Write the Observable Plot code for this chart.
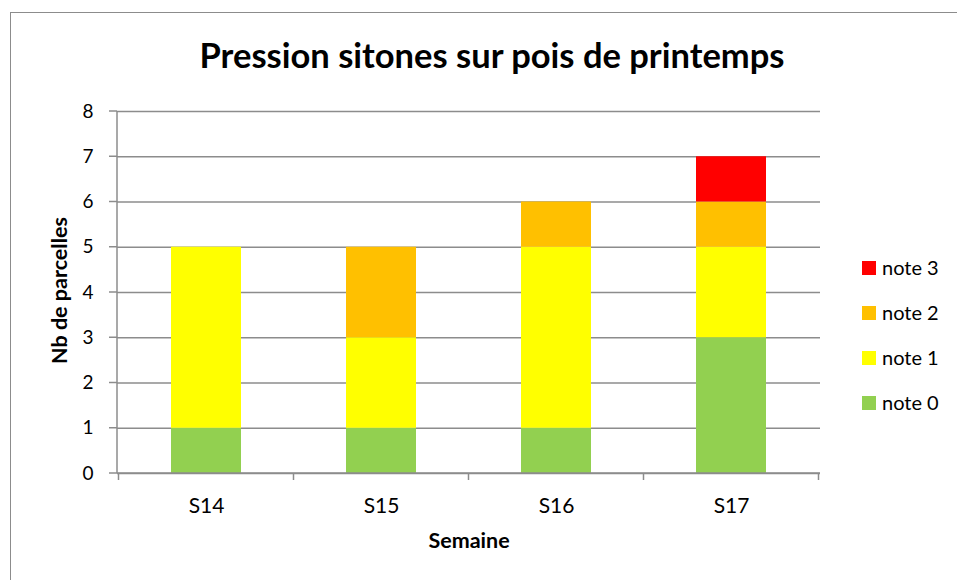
<!DOCTYPE html>
<html>
<head>
<meta charset="utf-8">
<script src="https://cdn.jsdelivr.net/npm/d3@7"></script>
<script src="https://cdn.jsdelivr.net/npm/@observablehq/plot@0.6"></script>
<style>
  body { margin: 0; background: #fff; font-family: Lato, "Open Sans", sans-serif; }
  #wrap { position: relative; width: 957px; height: 580px; overflow: hidden; }
  #frame { position: absolute; left: 10px; top: 12px; width: 960px; height: 580px; border: 1.5px solid #8c8c8c; box-sizing: border-box; }
  #chart { position: absolute; left: 0; top: 0; }
</style>
</head>
<body>
<div id="wrap">
  <div id="frame"></div>
  <div id="chart"></div>
</div>
<script>
const title = "Pression sitones sur pois de printemps";
const xTitle = "Semaine";
const yTitle = "Nb de parcelles";
const weeks = ["S14", "S15", "S16", "S17"];
const notes = ["note 0", "note 1", "note 2", "note 3"];
const note0 = [1, 1, 1, 3];
const note1 = [4, 2, 4, 2];
const note2 = [0, 2, 1, 1];
const note3 = [0, 0, 0, 1];
const colors = ["#92D050", "#FFFF00", "#FFC000", "#FF0000"];
const yTicks = [0, 1, 2, 3, 4, 5, 6, 7, 8];

const series = [note0, note1, note2, note3];
const data = [];
weeks.forEach((w, i) => {
  notes.forEach((n, j) => {
    data.push({week: w, note: n, value: series[j][i]});
  });
});

const font = "Lato, 'Open Sans', sans-serif";
const chart = Plot.plot({
  width: 957,
  height: 580,
  marginLeft: 117,
  marginRight: 137,
  marginTop: 111,
  marginBottom: 107,
  style: {fontFamily: font, fontSize: "16px", color: "#000", background: "transparent", overflow: "visible"},
  x: {domain: weeks, paddingInner: 0.6, paddingOuter: 0.3, label: null},
  y: {domain: [0, 8], ticks: yTicks, label: null},
  color: {domain: notes, range: colors},
  marks: [
    Plot.gridY(yTicks, {stroke: "#8c8c8c", strokeOpacity: 1, strokeWidth: 1.5}),
    Plot.barY(data, Plot.stackY({x: "week", y: "value", fill: "note", order: notes})),
    Plot.axisY(yTicks, {tickSize: 0, tickPadding: 24, fontSize: 19, fill: "#000"}),
    Plot.axisX({tickSize: 0, tickPadding: 25, fontSize: 21, fill: "#000"}),
    Plot.text([yTitle], {frameAnchor: "left", textAnchor: "middle", lineAnchor: "middle", dx: -57, dy: -2, rotate: -90, fontWeight: "bold", fontSize: 21.5, fill: "#000"}),
    Plot.text([xTitle], {frameAnchor: "bottom", textAnchor: "middle", lineAnchor: "middle", dy: 68, fontWeight: "bold", fontSize: 21.5, fill: "#000"}),
    Plot.text([title], {frameAnchor: "top", textAnchor: "middle", lineAnchor: "middle", dy: -55, dx: 23, fontWeight: "bold", fontSize: 34.5, fill: "#000"})
  ]
});
document.getElementById("chart").appendChild(chart);

// axis lines and tick marks derived from scales
const xs = chart.scale("x");
const ys = chart.scale("y");
const svg = d3.select(chart);
const g = svg.append("g").attr("stroke", "#8c8c8c").attr("stroke-width", 1.5);
const left = xs.range[0], right = xs.range[1];
const y0 = ys.apply(0), yTop = ys.apply(8);
g.append("line").attr("x1", left).attr("x2", left).attr("y1", yTop).attr("y2", y0);
yTicks.forEach(t => {
  g.append("line").attr("x1", left - 8).attr("x2", left).attr("y1", ys.apply(t)).attr("y2", ys.apply(t));
});
g.append("line").attr("x1", left).attr("x2", right).attr("y1", y0).attr("y2", y0);
const gap = (xs.step - xs.bandwidth) / 2;
const bounds = weeks.map(w => xs.apply(w) - gap).concat([xs.apply(weeks[weeks.length - 1]) + xs.bandwidth + gap]);
bounds.forEach(b => {
  g.append("line").attr("x1", b).attr("x2", b).attr("y1", y0).attr("y2", y0 + 7);
});

// legend (reverse order), to the right of the plot
const lg = svg.append("g").attr("font-family", font).attr("font-size", 20).attr("text-anchor", "start");
const legX = right + 42, legY0 = 268, legStep = 45;
notes.slice().reverse().forEach((n, k) => {
  const i = notes.indexOf(n);
  const cy = legY0 + k * legStep;
  lg.append("rect").attr("x", legX).attr("y", cy - 7).attr("width", 14).attr("height", 14).attr("fill", colors[i]);
  lg.append("text").attr("x", legX + 20).attr("y", cy).attr("dy", "0.35em").attr("text-anchor", "start").attr("fill", "#000").text(n);
});
</script>
</body>
</html>
